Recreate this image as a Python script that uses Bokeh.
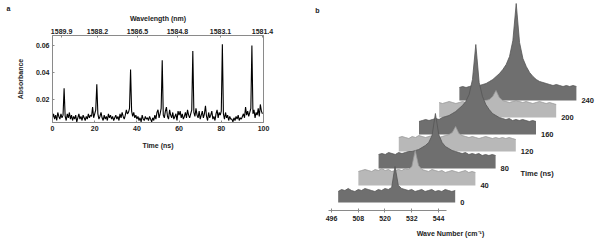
import numpy as np
from bokeh.plotting import figure
from bokeh.models import Range1d, LinearAxis, FixedTicker, Label, NumeralTickFormatter
from bokeh.layouts import row, column
from bokeh.embed import file_html
from bokeh.resources import INLINE

FONT = "Liberation Sans"

# ---------------- Panel a data ----------------
time_ns = np.arange(0, 100, 0.5)
absorbance_milli = [
    6, 9, 5, 8, 4, 10, 7, 5, 9, 6,
    8, 28, 7, 4, 9, 6, 10, 5, 8, 4,
    7, 5, 8, 3, 6, 9, 5, 7, 4, 8,
    6, 4, 7, 5, 9, 6, 8, 7, 14, 6,
    9, 12, 31, 9, 5, 7, 10, 6, 4, 8,
    5, 7, 4, 9, 6, 8, 5, 7, 4, 6,
    8, 5, 7, 4, 9, 6, 10, 7, 5, 8,
    12, 9, 10, 13, 42, 11, 7, 10, 6, 8,
    5, 7, 4, 6, 3, 8, 5, 4, 7, 5,
    6, 4, 7, 5, 3, 6, 4, 8, 5, 10,
    12, 6, 9, 13, 49, 8, 6, 11, 14, 7,
    5, 12, 8, 6, 10, 5, 7, 9, 4, 11,
    8, 11, 6, 9, 5, 7, 10, 6, 12, 8,
    6, 9, 12, 56, 10, 7, 13, 8, 6, 11,
    5, 8, 11, 6, 9, 15, 7, 4, 10, 6,
    8, 11, 5, 7, 4, 9, 12, 6, 10, 8,
    11, 61, 9, 5, 10, 6, 8, 4, 7, 5,
    5, 3, 6, 4, 7, 5, 8, 4, 6, 5,
    7, 9, 6, 14, 8, 11, 7, 10, 13, 60,
    9, 12, 6, 10, 8, 13, 7, 16, 11, 9,
]
absorbance = np.array(absorbance_milli) / 1000.0
time_ticks = [0, 20, 40, 60, 80, 100]
absorbance_ticks = [0.02, 0.04, 0.06]
wavelength_labels = ["1589.9", "1588.2", "1586.5", "1584.8", "1583.1", "1581.4"]
wavelength_tick_times = [4.3, 21.3, 40.3, 59.2, 79.6, 99.5]

# ---------------- Panel b data ----------------
spectrum_times = [0, 40, 80, 120, 160, 200, 240]
spectrum_shades = ["dark", "light", "dark", "light", "dark", "light", "dark"]
wave_number = np.arange(499, 552, 1.5)
spec_0 = [11, 13, 12, 14, 12, 11, 13, 12, 14, 13, 12, 11, 13, 12, 14, 13, 15, 36,
          17, 14, 13, 12, 13, 11, 12, 13, 11, 12, 13, 11, 12, 11, 13, 12, 11, 12]
spec_40 = [14, 15, 16, 15, 14, 16, 15, 17, 15, 16, 14, 15, 16, 15, 17, 16, 19, 35,
           20, 16, 15, 14, 16, 15, 14, 15, 13, 14, 15, 14, 13, 14, 15, 13, 14, 13]
spec_80 = [14, 15, 14, 16, 15, 14, 16, 15, 16, 17, 17, 18, 19, 21, 23, 26, 33, 55,
           34, 26, 22, 20, 18, 17, 16, 15, 16, 14, 15, 14, 15, 13, 14, 13, 14, 13]
spec_120 = [14, 15, 14, 13, 15, 14, 16, 15, 14, 15, 16, 15, 14, 15, 16, 17, 19, 25,
            18, 16, 15, 14, 15, 14, 13, 14, 15, 14, 13, 14, 13, 14, 13, 14, 13, 12]
spec_160 = [13, 14, 15, 14, 15, 16, 15, 17, 18, 19, 21, 23, 26, 29, 33, 40, 55, 90,
            52, 38, 30, 25, 21, 19, 17, 16, 15, 16, 14, 15, 14, 15, 14, 13, 14, 13]
spec_200 = [15, 14, 15, 16, 15, 14, 15, 16, 15, 14, 15, 16, 15, 16, 17, 18, 21, 27,
            20, 17, 16, 15, 16, 17, 16, 15, 16, 15, 14, 15, 16, 15, 14, 15, 14, 13]
spec_240 = [13, 14, 13, 14, 15, 14, 15, 16, 17, 19, 21, 24, 27, 31, 36, 44, 60, 97,
            58, 42, 34, 28, 24, 21, 19, 18, 17, 16, 15, 16, 15, 14, 15, 14, 15, 14]
spectra = [spec_0, spec_40, spec_80, spec_120, spec_160, spec_200, spec_240]
wave_ticks = [496, 508, 520, 532, 544]

# ---------------- Panel a ----------------
pa = figure(width=300, height=245, x_range=Range1d(0, 100), y_range=Range1d(0.0025, 0.0675),
            output_backend="svg", toolbar_location=None,
            min_border_left=52, min_border_right=37, min_border_top=35, min_border_bottom=123)
pa.line(time_ns, absorbance, line_color="black", line_width=1.1)
pa.grid.visible = False
pa.outline_line_color = "#8a8a8a"

pa.title.text = "a"
pa.title.align = "left"
pa.title.offset = -46
pa.title.standoff = 0
pa.title.text_font = FONT
pa.title.text_font_style = "bold"
pa.title.text_font_size = "7px"
pa.title.text_color = "#222222"


def style_axis(ax):
    ax.major_label_text_font = FONT
    ax.major_label_text_font_style = "bold"
    ax.major_label_text_font_size = "7px"
    ax.major_label_text_color = "#222222"
    ax.axis_label_text_font = FONT
    ax.axis_label_text_font_style = "bold"
    ax.axis_label_text_font_size = "7px"
    ax.axis_label_text_color = "#222222"
    ax.axis_line_color = "#8a8a8a"
    ax.major_tick_line_color = "#8a8a8a"
    ax.minor_tick_line_color = None
    ax.major_tick_in = 2
    ax.major_tick_out = 0
    ax.major_label_standoff = 3


xa = pa.xaxis[0]
xa.ticker = FixedTicker(ticks=time_ticks)
xa.axis_label = "Time (ns)"
style_axis(xa)
xa.axis_label_standoff = 8

ya = pa.yaxis[0]
ya.ticker = FixedTicker(ticks=absorbance_ticks)
ya.formatter = NumeralTickFormatter(format="0.00")
ya.axis_label = "Absorbance"
style_axis(ya)
ya.axis_label_standoff = 9

top = LinearAxis(ticker=FixedTicker(ticks=wavelength_tick_times),
                 major_label_overrides={t: l for t, l in zip(wavelength_tick_times, wavelength_labels)},
                 axis_label="Wavelength (nm)")
style_axis(top)
top.major_label_standoff = 2
top.axis_label_standoff = 4
pa.add_layout(top, "above")

# ---------------- Panel b ----------------
PX_PER_WN = 2.229
WN_LEFT = 482.1
pb = figure(width=300, height=245, x_range=Range1d(WN_LEFT, WN_LEFT + 300 / PX_PER_WN),
            y_range=Range1d(-8, 202), output_backend="svg", toolbar_location=None,
            x_axis_location=None, y_axis_location=None,
            min_border_left=0, min_border_right=0, min_border_top=0, min_border_bottom=35)
pb.grid.visible = False
pb.outline_line_color = None

DX = 20.2 / PX_PER_WN / 40.0   # wave-number shift per ns
DY = 17.0 / 40.0               # vertical shift per ns

colors = {"dark": ("#6f6f6f", "#555555"), "light": ("#b8b8b8", "#989898")}
for t, shade, vals in reversed(list(zip(spectrum_times, spectrum_shades, spectra))):
    xs = wave_number + t * DX
    base = t * DY
    ys = base + np.array(vals, dtype=float)
    fill, edge = colors[shade]
    px = np.concatenate([[xs[0]], xs, [xs[-1]]])
    py = np.concatenate([[base], ys, [base]])
    pb.patch(px, py, fill_color=fill, line_color=None)
    pb.line(xs, ys, line_color=edge, line_width=0.8)
    pb.add_layout(Label(x=xs[-1] + 5 / PX_PER_WN, y=base, text=str(t), text_font=FONT,
                        text_font_style="bold", text_font_size="7.5px", text_color="#222222",
                        text_align="left", text_baseline="middle"))

pb.add_layout(Label(x=WN_LEFT + 220 / PX_PER_WN, y=29, text="Time (ns)", text_font=FONT,
                    text_font_style="bold", text_font_size="7.5px", text_color="#222222",
                    text_align="left", text_baseline="middle"))
pb.add_layout(Label(x=WN_LEFT + 17 / PX_PER_WN, y=192, text="b", text_font=FONT,
                    text_font_style="bold", text_font_size="7px", text_color="#222222",
                    text_align="center", text_baseline="middle"))

wax = LinearAxis(ticker=FixedTicker(ticks=wave_ticks), axis_label="Wave Number (cm\u207b\u00b9)",
                 bounds=(494.7, 547.6))
style_axis(wax)
wax.major_tick_in = 2
wax.major_tick_out = 2
wax.major_label_standoff = 3
wax.axis_label_standoff = 6
pb.add_layout(wax, "below")

layout = row(column(pa), column(pb))
open("out.html", "w").write(file_html(layout, INLINE))
